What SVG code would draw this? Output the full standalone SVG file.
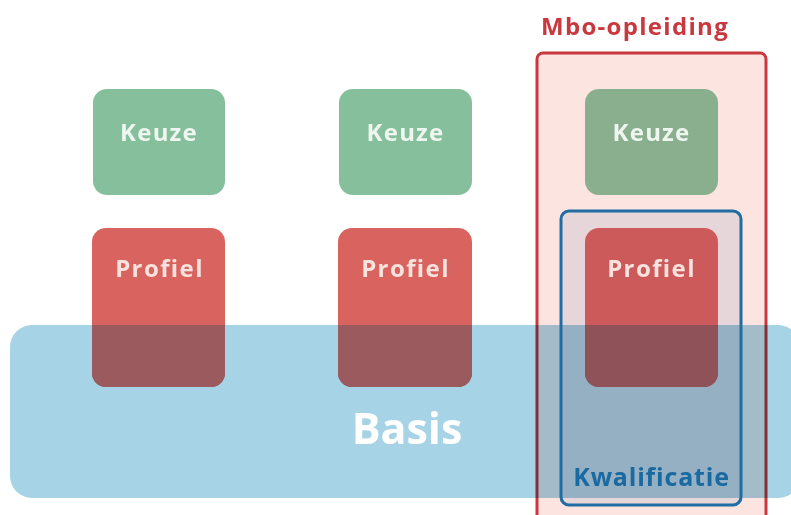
<svg xmlns="http://www.w3.org/2000/svg" width="791" height="515" viewBox="0 0 791 515">
<style>
.lbl{font-family:"Open Sans","Liberation Sans",sans-serif;font-weight:bold;text-anchor:middle}
.keuze{fill:#85bf9b}
.profiel{fill:#d9645f}
.ktxt{fill:#eef6ef;font-size:24px;letter-spacing:1.2px}
.ptxt{fill:#f8e2de;font-size:24px;letter-spacing:1.4px}
.ov{fill:#9a5a5e}
</style>
<defs>
<clipPath id="bandclip"><rect x="10" y="325" width="790" height="173" rx="22"/></clipPath>
</defs>
<rect width="791" height="515" fill="#ffffff"/>
<g id="mbo-opleiding">
<rect x="537" y="53" width="229" height="470" rx="6" fill="#fce4e1" stroke="#c8383e" stroke-width="3"/>
<text class="lbl" x="635" y="35" font-size="24" letter-spacing="1.3" fill="#c8383e">Mbo-opleiding</text>
</g>
<g id="kwalificatie-fill">
<rect x="561" y="211" width="180" height="294" rx="8" fill="#e6d5d9"/>
</g>
<g id="keuze1"><rect class="keuze" x="93" y="89" width="132" height="106" rx="14"/><text class="lbl ktxt" x="159" y="141">Keuze</text></g>
<g id="keuze2"><rect class="keuze" x="339" y="89" width="133" height="106" rx="14"/><text class="lbl ktxt" x="405.5" y="141">Keuze</text></g>
<g id="keuze3"><rect x="585" y="89" width="133" height="106" rx="14" fill="#8aaf8e"/><text class="lbl ktxt" x="651.5" y="141" fill="#e9efe7">Keuze</text></g>
<g id="profiel1"><rect class="profiel" x="92" y="228" width="133" height="159" rx="14"/></g>
<g id="profiel2"><rect class="profiel" x="338" y="228" width="134" height="159" rx="14"/></g>
<g id="profiel3"><rect x="585" y="228" width="133" height="159" rx="14" fill="#cc5a5b"/></g>
<g id="basis">
<rect x="10" y="325" width="790" height="173" rx="22" fill="#a6d3e5" style="mix-blend-mode:multiply"/>
<g clip-path="url(#bandclip)">
<rect class="ov" x="92" y="228" width="133" height="159" rx="14"/>
<rect class="ov" x="338" y="228" width="134" height="159" rx="14"/>
<rect x="585" y="228" width="133" height="159" rx="14" fill="#8f5259"/>
</g>
<text class="lbl" x="407" y="444" font-size="43" fill="#ffffff">Basis</text>
</g>
<g id="profiel-labels">
<text class="lbl ptxt" x="159.5" y="277">Profiel</text>
<text class="lbl ptxt" x="405.5" y="277">Profiel</text>
<text class="lbl ptxt" x="651.5" y="277" fill="#f3dcd8">Profiel</text>
</g>
<g id="kwalificatie">
<rect x="561" y="211" width="180" height="294" rx="8" fill="none" stroke="#1f6da2" stroke-width="3"/>
<text class="lbl" x="651.5" y="486" font-size="25" letter-spacing="0.8" fill="#1a6aa2">Kwalificatie</text>
</g>
<g id="connectors"></g>
</svg>
